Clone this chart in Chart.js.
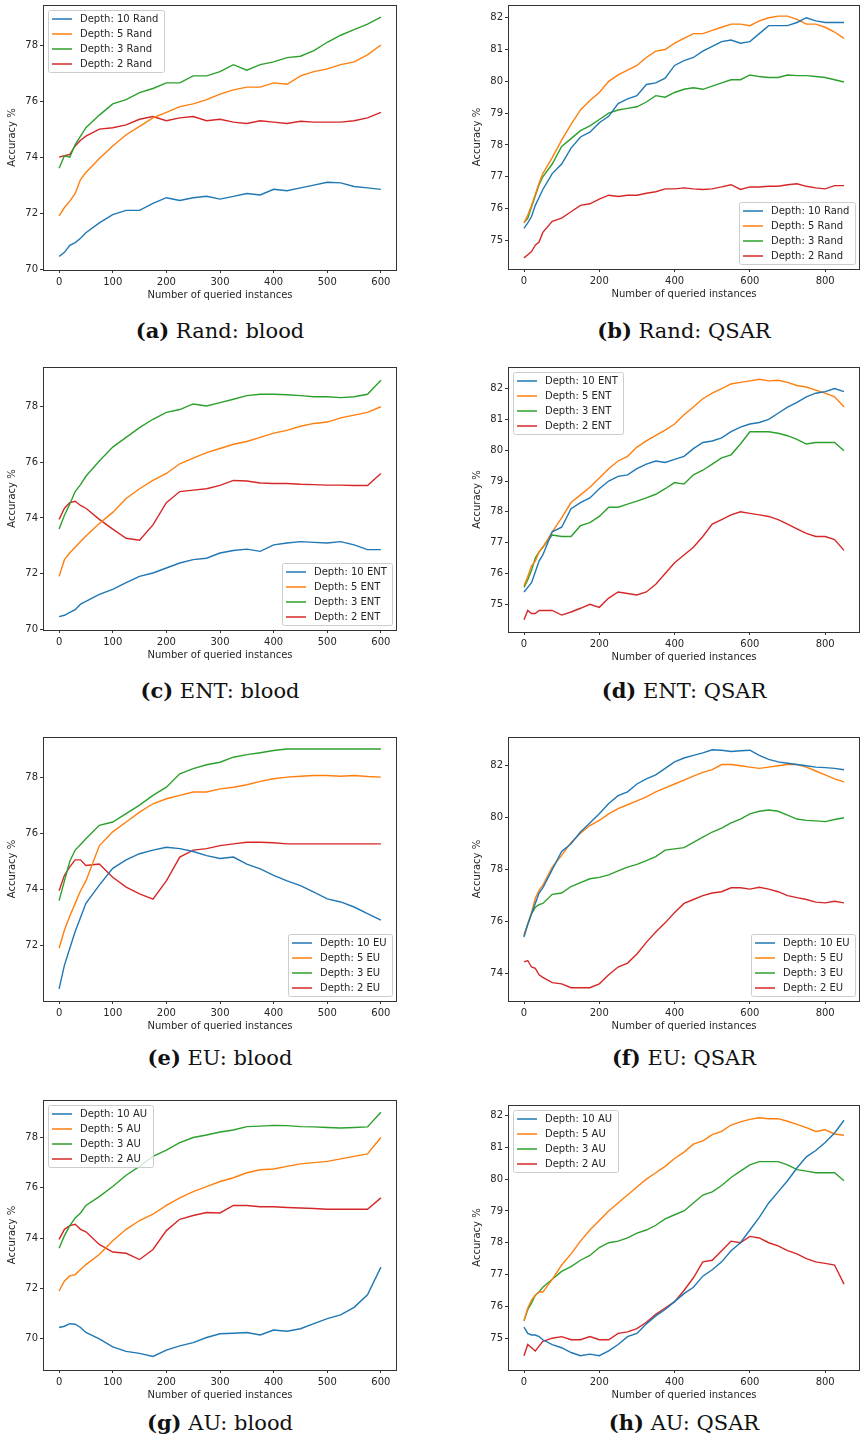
<!DOCTYPE html>
<html>
<head>
<meta charset="utf-8">
<script src="https://cdn.jsdelivr.net/npm/chart.js@4.4.1/dist/chart.umd.min.js"></script>
<style>
  body { margin: 0; background: #fff; width: 861px; height: 1443px; position: relative; overflow: hidden; }
  .plot { position: absolute; }
  .cap { position: absolute; font-family: 'DejaVu Serif', serif; font-size: 21px; color: #111;
         white-space: nowrap; transform: translate(-50%, -50%); }
</style>
</head>
<body>
<script>
// x grids (number of queried instances)
const X_BLOOD = [0, 10, 20, 30, 40, 50, 75, 100, 125, 150, 175, 200, 225, 250, 275, 300, 325, 350, 375, 400, 425, 450, 475, 500, 525, 550, 575, 600];
const X_QSAR  = [0, 10, 20, 30, 40, 50, 75, 100, 125, 150, 175, 200, 225, 250, 275, 300, 325, 350, 375, 400, 425, 450, 475, 500, 525, 550, 575, 600, 625, 650, 675, 700, 725, 750, 775, 800, 825, 850];

const XTICKS_BLOOD = [0, 100, 200, 300, 400, 500, 600];
const XTICKS_QSAR  = [0, 200, 400, 600, 800];
const YTICKS_BLOOD = [70, 72, 74, 76, 78];
const YTICKS_BLOOD_EU = [72, 74, 76, 78];
const YTICKS_QSAR  = [75, 76, 77, 78, 79, 80, 81, 82];
const YTICKS_QSAR_EU = [74, 76, 78, 80, 82];

const DEPTHS = [10, 5, 3, 2];

// (a) Rand: blood
const randBlood10 = [70.45, 70.6, 70.85, 70.95, 71.1, 71.3, 71.65, 71.95, 72.1, 72.1, 72.35, 72.55, 72.45, 72.55, 72.6, 72.5, 72.6, 72.7, 72.65, 72.85, 72.8, 72.9, 73.0, 73.1, 73.08, 72.95, 72.9, 72.85];
const randBlood5  = [71.9, 72.2, 72.43, 72.7, 73.2, 73.45, 73.95, 74.4, 74.8, 75.1, 75.4, 75.6, 75.8, 75.9, 76.05, 76.25, 76.4, 76.5, 76.5, 76.65, 76.6, 76.9, 77.05, 77.15, 77.3, 77.4, 77.65, 78.0];
const randBlood3  = [73.6, 74.05, 74.0, 74.45, 74.75, 75.05, 75.5, 75.9, 76.05, 76.3, 76.45, 76.65, 76.65, 76.9, 76.9, 77.05, 77.3, 77.1, 77.3, 77.4, 77.55, 77.6, 77.8, 78.1, 78.35, 78.55, 78.75, 79.0];
const randBlood2  = [74.0, 74.05, 74.1, 74.4, 74.6, 74.75, 75.0, 75.05, 75.15, 75.35, 75.45, 75.3, 75.4, 75.45, 75.3, 75.35, 75.25, 75.2, 75.3, 75.25, 75.2, 75.28, 75.25, 75.25, 75.25, 75.3, 75.4, 75.6];

// (b) Rand: QSAR
const randQsar10 = [75.38, 75.55, 75.75, 76.1, 76.35, 76.6, 77.1, 77.4, 77.9, 78.25, 78.4, 78.7, 78.9, 79.3, 79.45, 79.55, 79.9, 79.95, 80.1, 80.5, 80.65, 80.75, 80.95, 81.1, 81.25, 81.3, 81.2, 81.25, 81.5, 81.75, 81.75, 81.75, 81.85, 82.0, 81.9, 81.85, 81.85, 81.85];
const randQsar5  = [75.55, 75.8, 76.1, 76.45, 76.8, 77.1, 77.6, 78.15, 78.65, 79.1, 79.4, 79.65, 80.0, 80.2, 80.35, 80.5, 80.75, 80.95, 81.0, 81.2, 81.35, 81.5, 81.5, 81.6, 81.7, 81.8, 81.8, 81.75, 81.9, 82.0, 82.05, 82.05, 81.95, 81.8, 81.8, 81.7, 81.55, 81.35];
const randQsar3  = [75.55, 75.7, 76.05, 76.4, 76.75, 77.0, 77.4, 77.95, 78.2, 78.45, 78.6, 78.8, 79.0, 79.1, 79.15, 79.2, 79.35, 79.55, 79.5, 79.65, 79.75, 79.8, 79.75, 79.85, 79.95, 80.05, 80.05, 80.2, 80.15, 80.12, 80.12, 80.2, 80.18, 80.18, 80.15, 80.12, 80.05, 79.98];
const randQsar2  = [74.45, 74.55, 74.65, 74.85, 74.95, 75.25, 75.6, 75.7, 75.9, 76.1, 76.15, 76.3, 76.42, 76.38, 76.42, 76.42, 76.48, 76.53, 76.62, 76.62, 76.65, 76.62, 76.6, 76.62, 76.68, 76.75, 76.6, 76.68, 76.68, 76.7, 76.7, 76.75, 76.78, 76.7, 76.65, 76.62, 76.72, 76.72];

// (c) ENT: blood
const entBlood10 = [70.45, 70.5, 70.6, 70.7, 70.9, 71.0, 71.25, 71.43, 71.67, 71.9, 72.02, 72.2, 72.38, 72.5, 72.55, 72.74, 72.83, 72.88, 72.8, 73.03, 73.1, 73.15, 73.12, 73.1, 73.15, 73.03, 72.86, 72.86];
const entBlood5  = [71.9, 72.5, 72.75, 72.95, 73.15, 73.35, 73.8, 74.2, 74.7, 75.05, 75.35, 75.6, 75.95, 76.15, 76.35, 76.5, 76.65, 76.75, 76.9, 77.05, 77.15, 77.3, 77.4, 77.45, 77.6, 77.7, 77.8, 78.0];
const entBlood3  = [73.6, 74.1, 74.5, 74.95, 75.2, 75.5, 76.05, 76.55, 76.9, 77.25, 77.55, 77.8, 77.9, 78.1, 78.03, 78.15, 78.27, 78.4, 78.45, 78.45, 78.43, 78.4, 78.36, 78.36, 78.33, 78.36, 78.45, 78.95];
const entBlood2  = [73.95, 74.35, 74.55, 74.6, 74.45, 74.35, 73.95, 73.6, 73.27, 73.2, 73.75, 74.55, 74.95, 75.0, 75.05, 75.17, 75.35, 75.33, 75.26, 75.24, 75.24, 75.21, 75.2, 75.18, 75.18, 75.17, 75.17, 75.6];

// (d) ENT: QSAR
const entQsar10 = [75.4, 75.55, 75.7, 76.05, 76.4, 76.6, 77.35, 77.5, 78.1, 78.3, 78.45, 78.75, 79.0, 79.15, 79.2, 79.4, 79.55, 79.65, 79.6, 79.7, 79.8, 80.05, 80.25, 80.3, 80.4, 80.6, 80.75, 80.85, 80.9, 81.0, 81.2, 81.4, 81.55, 81.73, 81.85, 81.9, 82.0, 81.9];
const entQsar5  = [75.6, 75.9, 76.25, 76.4, 76.7, 76.85, 77.35, 77.8, 78.3, 78.55, 78.8, 79.1, 79.4, 79.65, 79.8, 80.1, 80.3, 80.48, 80.65, 80.85, 81.15, 81.4, 81.67, 81.85, 82.0, 82.15, 82.2, 82.25, 82.3, 82.25, 82.27, 82.2, 82.1, 82.05, 81.95, 81.85, 81.73, 81.4];
const entQsar3  = [75.55, 75.8, 76.1, 76.5, 76.7, 76.85, 77.25, 77.2, 77.2, 77.55, 77.65, 77.85, 78.15, 78.15, 78.25, 78.35, 78.45, 78.57, 78.75, 78.95, 78.9, 79.2, 79.35, 79.55, 79.75, 79.85, 80.2, 80.6, 80.6, 80.6, 80.55, 80.47, 80.35, 80.2, 80.25, 80.25, 80.25, 79.98];
const entQsar2  = [74.5, 74.8, 74.7, 74.7, 74.8, 74.8, 74.8, 74.65, 74.75, 74.87, 75.0, 74.9, 75.2, 75.4, 75.35, 75.3, 75.4, 75.65, 76.0, 76.35, 76.6, 76.85, 77.2, 77.6, 77.75, 77.9, 78.0, 77.95, 77.9, 77.85, 77.75, 77.6, 77.45, 77.3, 77.2, 77.2, 77.1, 76.75];

// (e) EU: blood
const euBlood10 = [70.45, 71.3, 71.9, 72.5, 73.0, 73.5, 74.15, 74.75, 75.05, 75.27, 75.4, 75.5, 75.45, 75.35, 75.2, 75.1, 75.15, 74.9, 74.73, 74.5, 74.3, 74.13, 73.9, 73.66, 73.55, 73.37, 73.13, 72.9];
const euBlood5  = [71.9, 72.55, 73.05, 73.5, 73.95, 74.3, 75.55, 76.05, 76.4, 76.75, 77.05, 77.23, 77.35, 77.47, 77.47, 77.58, 77.64, 77.73, 77.85, 77.94, 78.0, 78.03, 78.06, 78.06, 78.03, 78.06, 78.02, 78.0];
const euBlood3  = [73.6, 74.3, 75.0, 75.4, 75.6, 75.8, 76.28, 76.4, 76.7, 77.0, 77.35, 77.64, 78.12, 78.3, 78.44, 78.53, 78.71, 78.8, 78.87, 78.95, 79.0, 79.0, 79.0, 79.0, 79.0, 79.0, 79.0, 79.0];
const euBlood2  = [73.95, 74.5, 74.8, 75.05, 75.05, 74.85, 74.9, 74.43, 74.08, 73.84, 73.65, 74.3, 75.15, 75.4, 75.45, 75.56, 75.62, 75.68, 75.68, 75.66, 75.62, 75.62, 75.62, 75.62, 75.62, 75.62, 75.62, 75.62];

// (f) EU: QSAR
const euQsar10 = [75.4, 75.9, 76.3, 76.7, 77.1, 77.3, 78.0, 78.7, 79.0, 79.45, 79.8, 80.15, 80.55, 80.85, 81.0, 81.3, 81.5, 81.65, 81.9, 82.15, 82.3, 82.4, 82.5, 82.62, 82.6, 82.55, 82.58, 82.6, 82.4, 82.25, 82.15, 82.1, 82.05, 82.0, 81.95, 81.93, 81.9, 81.85];
const euQsar5  = [75.5, 75.9, 76.35, 76.9, 77.2, 77.4, 78.1, 78.55, 79.05, 79.4, 79.7, 79.9, 80.15, 80.35, 80.5, 80.65, 80.8, 81.0, 81.15, 81.3, 81.45, 81.6, 81.75, 81.85, 82.05, 82.05, 82.0, 81.95, 81.9, 81.95, 82.0, 82.05, 82.05, 81.95, 81.8, 81.65, 81.5, 81.38];
const euQsar3  = [75.45, 75.9, 76.3, 76.55, 76.65, 76.7, 77.05, 77.1, 77.35, 77.5, 77.65, 77.7, 77.8, 77.95, 78.1, 78.2, 78.35, 78.5, 78.75, 78.8, 78.85, 79.05, 79.25, 79.45, 79.6, 79.8, 79.95, 80.15, 80.25, 80.3, 80.25, 80.1, 79.95, 79.9, 79.88, 79.85, 79.93, 80.0];
const euQsar2  = [74.45, 74.5, 74.25, 74.2, 73.95, 73.85, 73.65, 73.6, 73.45, 73.45, 73.45, 73.6, 73.95, 74.25, 74.4, 74.75, 75.2, 75.6, 75.95, 76.35, 76.7, 76.85, 77.0, 77.1, 77.15, 77.3, 77.3, 77.25, 77.32, 77.25, 77.15, 77.0, 76.92, 76.85, 76.75, 76.72, 76.78, 76.72];

// (g) AU: blood
const auBlood10 = [70.45, 70.5, 70.6, 70.58, 70.45, 70.25, 70.0, 69.68, 69.5, 69.42, 69.3, 69.55, 69.72, 69.85, 70.05, 70.2, 70.22, 70.25, 70.15, 70.35, 70.3, 70.4, 70.6, 70.8, 70.95, 71.25, 71.75, 72.85];
const auBlood5  = [71.9, 72.3, 72.5, 72.55, 72.75, 72.95, 73.35, 73.9, 74.35, 74.7, 74.95, 75.3, 75.6, 75.85, 76.05, 76.25, 76.4, 76.6, 76.72, 76.75, 76.85, 76.95, 77.0, 77.05, 77.15, 77.25, 77.35, 78.0];
const auBlood3  = [73.6, 74.1, 74.5, 74.8, 75.0, 75.3, 75.65, 76.05, 76.5, 76.85, 77.25, 77.5, 77.8, 78.0, 78.1, 78.22, 78.3, 78.43, 78.45, 78.48, 78.47, 78.43, 78.42, 78.4, 78.38, 78.4, 78.42, 79.0];
const auBlood2  = [73.95, 74.35, 74.5, 74.55, 74.35, 74.25, 73.75, 73.45, 73.4, 73.15, 73.55, 74.3, 74.75, 74.9, 75.02, 75.0, 75.3, 75.3, 75.25, 75.25, 75.22, 75.2, 75.18, 75.15, 75.15, 75.15, 75.15, 75.6];

// (h) AU: QSAR
const auQsar10 = [75.35, 75.15, 75.1, 75.1, 75.05, 74.95, 74.8, 74.7, 74.55, 74.45, 74.5, 74.45, 74.6, 74.8, 75.05, 75.15, 75.45, 75.7, 75.9, 76.15, 76.4, 76.6, 76.95, 77.15, 77.4, 77.75, 78.0, 78.4, 78.8, 79.25, 79.6, 79.95, 80.35, 80.7, 80.9, 81.15, 81.45, 81.85];
const auQsar5  = [75.55, 75.95, 76.2, 76.35, 76.45, 76.45, 76.85, 77.3, 77.65, 78.05, 78.4, 78.7, 79.0, 79.25, 79.5, 79.75, 80.0, 80.2, 80.4, 80.65, 80.85, 81.1, 81.2, 81.4, 81.5, 81.7, 81.8, 81.88, 81.93, 81.9, 81.9, 81.82, 81.72, 81.62, 81.5, 81.55, 81.42, 81.38];
const auQsar3  = [75.55, 75.9, 76.1, 76.35, 76.45, 76.6, 76.85, 77.1, 77.25, 77.45, 77.6, 77.85, 78.0, 78.05, 78.15, 78.3, 78.4, 78.55, 78.75, 78.88, 79.0, 79.25, 79.5, 79.6, 79.8, 80.05, 80.25, 80.45, 80.55, 80.55, 80.55, 80.45, 80.3, 80.25, 80.2, 80.2, 80.2, 79.95];
const auQsar2  = [74.45, 74.8, 74.7, 74.6, 74.75, 74.9, 75.0, 75.05, 74.95, 74.95, 75.05, 74.95, 74.95, 75.15, 75.2, 75.3, 75.5, 75.75, 75.95, 76.15, 76.5, 76.9, 77.4, 77.45, 77.75, 78.05, 78.0, 78.2, 78.15, 78.0, 77.9, 77.75, 77.65, 77.5, 77.4, 77.35, 77.3, 76.7];

const COLORS = ['#1f77b4', '#ff7f0e', '#2ca02c', '#d62728'];
const INK = '#262626';

// page layout of each panel: axes box [left, top, right, bottom] in page pixels
const PANELS = [
  { tag: 'a', method: 'Rand', data: 'blood', series: [randBlood10, randBlood5, randBlood3, randBlood2], box: [43, 5, 397, 270],     ylim: [69.97, 79.43], yticks: YTICKS_BLOOD,    legend: 'ul', capY: 330 },
  { tag: 'b', method: 'Rand', data: 'QSAR',  series: [randQsar10, randQsar5, randQsar3, randQsar2], box: [508, 5, 860, 269],       ylim: [74.1, 82.4],   yticks: YTICKS_QSAR,     legend: 'lr', capY: 330 },
  { tag: 'c', method: 'ENT',  data: 'blood', series: [entBlood10, entBlood5, entBlood3, entBlood2], box: [43, 367, 397, 630],      ylim: [69.97, 79.43], yticks: YTICKS_BLOOD,    legend: 'lr', capY: 690 },
  { tag: 'd', method: 'ENT',  data: 'QSAR',  series: [entQsar10, entQsar5, entQsar3, entQsar2],     box: [508, 367, 860, 632],     ylim: [74.1, 82.7],   yticks: YTICKS_QSAR,     legend: 'ul', capY: 690 },
  { tag: 'e', method: 'EU',   data: 'blood', series: [euBlood10, euBlood5, euBlood3, euBlood2],     box: [43, 737, 397, 1001],     ylim: [70.02, 79.43], yticks: YTICKS_BLOOD_EU, legend: 'lr', capY: 1057 },
  { tag: 'f', method: 'EU',   data: 'QSAR',  series: [euQsar10, euQsar5, euQsar3, euQsar2],         box: [508, 737, 860, 1001],    ylim: [72.94, 83.11], yticks: YTICKS_QSAR_EU,  legend: 'lr', capY: 1057 },
  { tag: 'g', method: 'AU',   data: 'blood', series: [auBlood10, auBlood5, auBlood3, auBlood2],     box: [43, 1100, 397, 1370],    ylim: [68.76, 79.49], yticks: YTICKS_BLOOD,    legend: 'ul', capY: 1422 },
  { tag: 'h', method: 'AU',   data: 'QSAR',  series: [auQsar10, auQsar5, auQsar3, auQsar2],         box: [508, 1105, 860, 1370],   ylim: [74.0, 82.33],  yticks: YTICKS_QSAR,     legend: 'ul', capY: 1422 }
];

const Y_AXIS_W = 43, X_AXIS_H = 34, PAD_TOP = 5, PAD_RIGHT = 3;

Chart.defaults.font.family = "'DejaVu Sans', sans-serif";
Chart.defaults.font.size = 10;
Chart.defaults.color = INK;

// matplotlib-like frame and legend
const mplDecor = {
  id: 'mplDecor',
  afterDraw(chart, args, opts) {
    const { ctx, chartArea: a } = chart;
    ctx.save();
    ctx.strokeStyle = '#333';
    ctx.lineWidth = 1;
    ctx.strokeRect(Math.round(a.left) + 0.5, Math.round(a.top) + 0.5,
                   Math.round(a.right - a.left) - 1, Math.round(a.bottom - a.top));

    const sets = chart.data.datasets;
    ctx.font = "10px 'DejaVu Sans'";
    const tw = Math.max(...sets.map(d => ctx.measureText(d.label).width));
    const w = Math.ceil(32 + tw + 5), h = 62;
    const x0 = opts.loc === 'ul' ? a.left + 5 : a.right - 5 - w;
    const y0 = opts.loc === 'ul' ? a.top + 5 : a.bottom - 5 - h;
    ctx.beginPath();
    ctx.roundRect(x0 + 0.5, y0 + 0.5, w, h, 2);
    ctx.fillStyle = 'rgba(255,255,255,0.8)';
    ctx.fill();
    ctx.strokeStyle = '#cccccc';
    ctx.stroke();
    sets.forEach((d, i) => {
      const cy = y0 + 9 + i * 15;
      ctx.beginPath();
      ctx.moveTo(x0 + 4, cy);
      ctx.lineTo(x0 + 24, cy);
      ctx.strokeStyle = d.borderColor;
      ctx.lineWidth = 1.5;
      ctx.stroke();
      ctx.fillStyle = INK;
      ctx.textBaseline = 'middle';
      ctx.fillText(d.label, x0 + 32, cy);
    });
    ctx.restore();
  }
};

function noPad(s) { s.paddingTop = 0; s.paddingBottom = 0; s.paddingLeft = 0; s.paddingRight = 0; }

function makePanel(p) {
  const blood = p.data === 'blood';
  const xs = blood ? X_BLOOD : X_QSAR;
  const xticks = blood ? XTICKS_BLOOD : XTICKS_QSAR;
  const xlim = blood ? [-30, 630] : [-42.5, 892.5];
  const [l, t, r, b] = p.box;

  const left = l - Y_AXIS_W, top = t - PAD_TOP;
  const width = r + PAD_RIGHT - left, height = b - t + PAD_TOP + X_AXIS_H;
  const wrap = document.createElement('div');
  wrap.className = 'plot';
  wrap.style.cssText = `left:${left}px;top:${top}px;width:${width}px;height:${height}px`;
  const canvas = document.createElement('canvas');
  canvas.width = width; canvas.height = height;
  wrap.appendChild(canvas);
  document.body.appendChild(wrap);

  const cap = document.createElement('div');
  cap.className = 'cap';
  cap.style.left = ((l + r) / 2) + 'px';
  cap.style.top = p.capY + 'px';
  cap.innerHTML = `<b>(${p.tag})</b> ${p.method}: ${p.data}`;
  document.body.appendChild(cap);

  const tickGrid = { drawOnChartArea: false, drawTicks: true, tickLength: 3, color: '#333', lineWidth: 1 };

  new Chart(canvas, {
    type: 'line',
    data: {
      datasets: p.series.map((ys, i) => ({
        label: `Depth: ${DEPTHS[i]} ${p.method}`,
        data: xs.map((x, j) => ({ x, y: ys[j] })),
        borderColor: COLORS[i],
        borderWidth: 1.4,
        pointRadius: 0,
        tension: 0,
        fill: false
      }))
    },
    options: {
      responsive: false,
      animation: false,
      events: [],
      layout: { padding: { top: PAD_TOP, right: PAD_RIGHT, left: 0, bottom: 0 } },
      plugins: { legend: { display: false }, tooltip: { enabled: false }, mplDecor: { loc: p.legend } },
      scales: {
        x: {
          type: 'linear', min: xlim[0], max: xlim[1],
          afterBuildTicks: s => { s.ticks = xticks.map(v => ({ value: v })); },
          afterFit: s => { s.height = X_AXIS_H; noPad(s); },
          grid: tickGrid, border: { display: false },
          ticks: { padding: 3, maxRotation: 0, autoSkip: false, color: INK },
          title: { display: true, text: 'Number of queried instances', color: INK, padding: { top: 0, bottom: 3 } }
        },
        y: {
          type: 'linear', min: p.ylim[0], max: p.ylim[1],
          afterBuildTicks: s => { s.ticks = p.yticks.map(v => ({ value: v })); },
          afterFit: s => { s.width = Y_AXIS_W; noPad(s); },
          grid: tickGrid, border: { display: false },
          ticks: { padding: 2, autoSkip: false, color: INK },
          title: { display: true, text: 'Accuracy %', color: INK, padding: { top: 6, bottom: 0 } }
        }
      }
    },
    plugins: [mplDecor]
  });
}

PANELS.forEach(makePanel);
</script>
</body>
</html>
